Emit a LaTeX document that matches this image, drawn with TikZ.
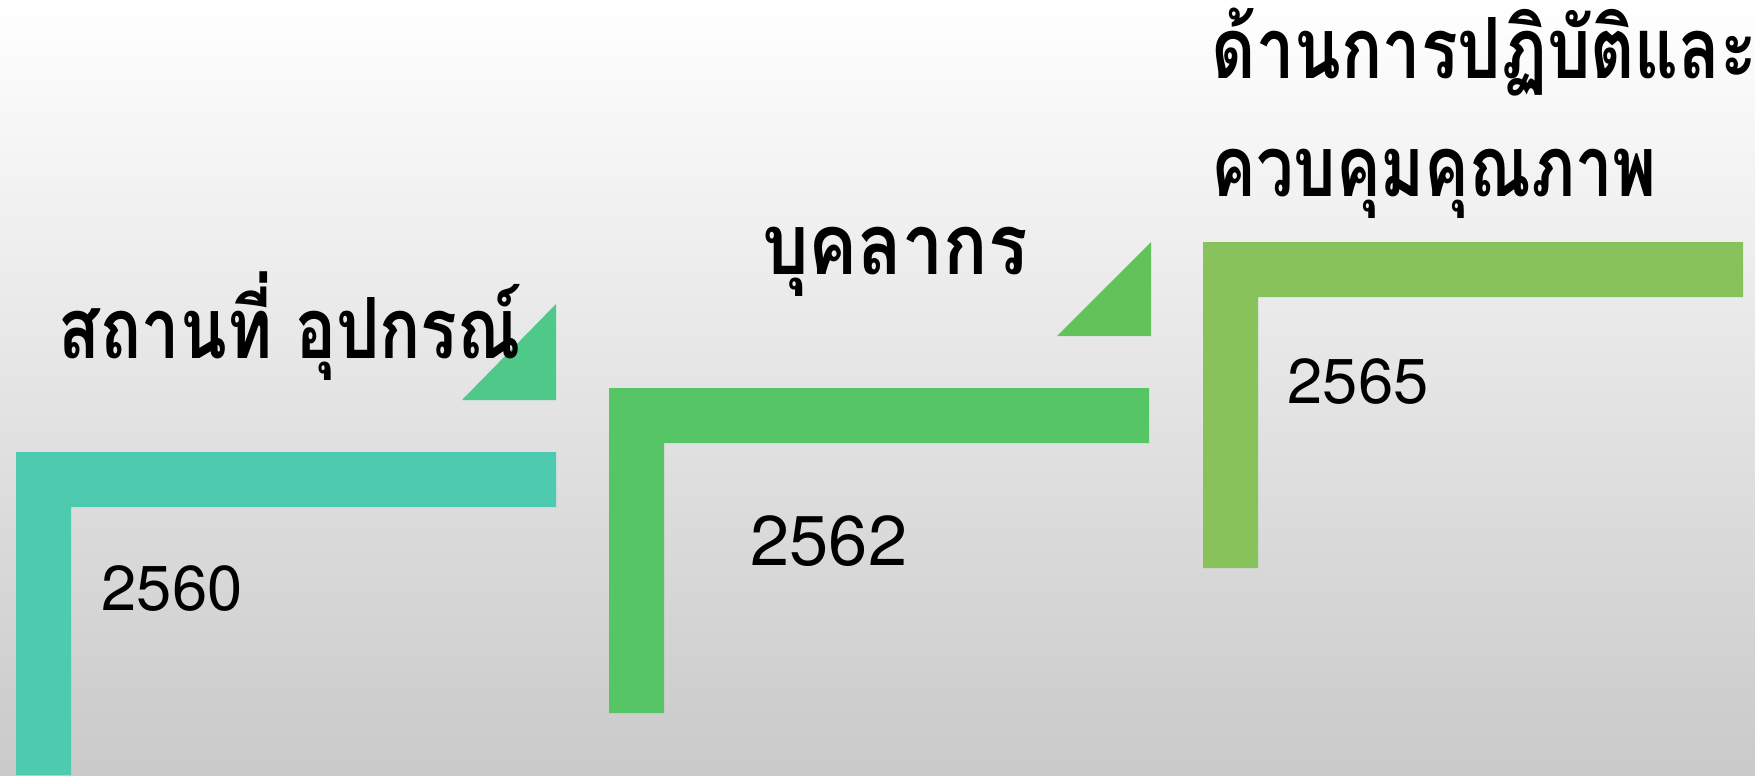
\documentclass[tikz,border=0pt]{standalone}
\usepackage{fontspec}
\setmainfont{TeX Gyre Heros}
\newfontfamily\thaifont[Script=Thai]{Loma}
\newcommand\squeeze[2][0.83]{\scalebox{#1}[1]{#2}}
\definecolor{stepA}{HTML}{4ECBAE}
\definecolor{stepB}{HTML}{55C566}
\definecolor{stepC}{HTML}{88C25A}
\definecolor{triA}{HTML}{4FC98A}
\definecolor{triB}{HTML}{63C25A}
\begin{document}
\begin{tikzpicture}
          [x=0.01cm,y=-0.01cm,
           thai/.style={font=\thaifont\bfseries\fontsize{24}{28}\selectfont,inner sep=0},
           year/.style={font=\fontsize{18}{20}\selectfont,inner sep=0,anchor=base west}]
          \useasboundingbox (0,0) rectangle (1755,775);
          \shade[top color=white,bottom color=black!21] (0,0) rectangle (1755,775);

          \foreach \x/\y/\b/\c in {16/452/775/stepA,609/388/713/stepB,1203/242/568/stepC}
            \fill[\c] (\x,\y) -- (\x+540,\y) -- (\x+540,\y+55) -- (\x+55,\y+55)
              -- (\x+55,\b) -- (\x,\b) -- cycle;

          \fill[triA] (556,304) -- (556,400) -- (462,400) -- cycle;
          \fill[triB] (1151,242) -- (1151,336) -- (1057,336) -- cycle;

          \node[thai,anchor=base] (place) at (290,358) {\squeeze[0.81]{สถานที่ อุปกรณ์}};
          \node[thai,anchor=base] (staff) at (895,274) {\squeeze[0.87]{บุคลากร}};
          \node[thai,anchor=base west] (qc1) at (1211,78) {\squeeze[0.81]{ด้านการปฏิบัติและ}};
          \node[thai,anchor=base west] (qc2) at (1211,196) {\squeeze[0.79]{ควบคุมคุณภาพ}};

          \node[year] (y60) at (101,610) {2560};
          \node[year,font=\fontsize{20}{22}\selectfont] (y62) at (750,565) {2562};
          \node[year] (y65) at (1287,403) {2565};

        \end{tikzpicture}
\end{document}
